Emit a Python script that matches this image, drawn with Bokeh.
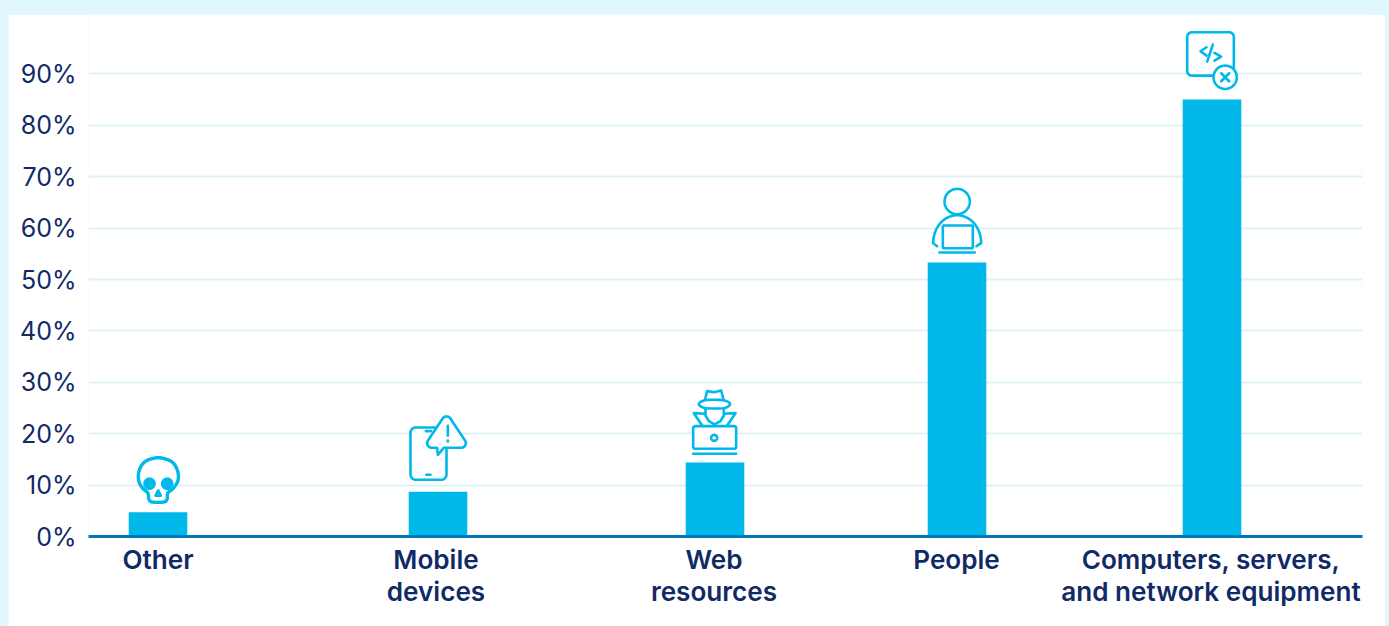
from math import cos, sin, pi

from bokeh.embed import file_html
from bokeh.layouts import column
from bokeh.models import FixedTicker, PrintfTickFormatter, Range1d
from bokeh.plotting import figure
from bokeh.resources import INLINE

# Chart data
categories = ["Other", "Mobile\ndevices", "Web\nresources", "People",
              "Computers, servers,\nand network equipment"]
shares = [4.7, 8.7, 14.4, 53.3, 85.0]
percent_ticks = [0, 10, 20, 30, 40, 50, 60, 70, 80, 90]

# Layout: the x scale counts window pixels, so bar centres read directly
WIDTH, HEIGHT = 1389, 626
CARD_LEFT, CARD_RIGHT, CARD_TOP = 8, 1385, 14
LEFT, RIGHT, BASE = 88, 1362, 536
PX_PER_PERCENT = 5.14
centres = [157.5, 437.5, 714.5, 956.5, 1211.5]
label_centres = [157.5, 435.5, 713.5, 956, 1210.5]
BAR_WIDTH = 58.6

PAGE = "#dff7fd"
GRID = "#dff1f7"
CYAN = "#00b8e9"
AXIS = "#0277b5"
INK = "#102a66"
STROKE = 2.6

p = figure(width=CARD_RIGHT - CARD_LEFT, height=HEIGHT - CARD_TOP,
           output_backend="svg", toolbar_location=None,
           margin=(CARD_TOP, WIDTH - CARD_RIGHT, 0, CARD_LEFT),
           x_range=Range1d(LEFT, RIGHT),
           y_range=Range1d(0, (BASE - CARD_TOP) / PX_PER_PERCENT),
           min_border_left=LEFT - CARD_LEFT, min_border_right=CARD_RIGHT - RIGHT,
           min_border_top=0, min_border_bottom=HEIGHT - BASE,
           border_fill_color="white", background_fill_color="white", outline_line_color=None)

p.xgrid.visible = False
p.ygrid.ticker = FixedTicker(ticks=percent_ticks)
p.ygrid.grid_line_color = GRID
p.ygrid.grid_line_width = 2

p.yaxis.ticker = FixedTicker(ticks=percent_ticks)
p.yaxis.formatter = PrintfTickFormatter(format="%d%%")
p.yaxis.axis_line_color = None
p.yaxis.major_tick_line_color = None
p.yaxis.minor_tick_line_color = None
p.yaxis.major_label_standoff = 6
p.yaxis.major_label_text_font = "Inter"
p.yaxis.major_label_text_font_size = "25px"
p.yaxis.major_label_text_color = INK

p.xaxis.ticker = FixedTicker(ticks=label_centres)
p.xaxis.major_label_overrides = dict(zip(label_centres, categories))
p.xaxis.axis_line_color = AXIS
p.xaxis.axis_line_width = 3
p.xaxis.major_tick_line_color = None
p.xaxis.minor_tick_line_color = None
p.xaxis.major_label_standoff = 1
p.xaxis.major_label_text_font = "Inter SemiBold"
p.xaxis.major_label_text_font_size = "26.1px"
p.xaxis.major_label_text_line_height = 1.04
p.xaxis.major_label_text_color = INK

p.vbar(x=centres, top=shares, bottom=0, width=BAR_WIDTH, fill_color=CYAN, line_color=None)


# Icon helpers: each icon is drawn on a 3-units-per-pixel grid, and "origin" is
# where the top centre of its bar sits on that grid.
def arc(cx, cy, rx, ry, start=0, end=360, steps=48):
    return [(cx + rx * cos(pi * (start + (end - start) * i / steps) / 180),
             cy + ry * sin(pi * (start + (end - start) * i / steps) / 180))
            for i in range(steps + 1)]


def round_rect(x0, y0, x1, y1, r):
    return (arc(x0 + r, y0 + r, r, r, 180, 270, 8) + arc(x1 - r, y0 + r, r, r, 270, 360, 8)
            + arc(x1 - r, y1 - r, r, r, 0, 90, 8) + arc(x0 + r, y1 - r, r, r, 90, 180, 8))


def smooth(points, steps=8):
    n = len(points)
    out = []
    for i in range(n):
        p0, p1, p2, p3 = (points[(i + k) % n] for k in (-1, 0, 1, 2))
        for s in range(steps):
            t = s / steps
            out.append(tuple(
                0.5 * (2 * p1[a] + (p2[a] - p0[a]) * t
                       + (2 * p0[a] - 5 * p1[a] + 4 * p2[a] - p3[a]) * t ** 2
                       + (3 * p1[a] - p0[a] - 3 * p2[a] + p3[a]) * t ** 3)
                for a in (0, 1)))
    return out


class Icon:
    def __init__(self, bar, origin):
        self.cx, self.top, self.origin = centres[bar], shares[bar], origin

    def _xy(self, points):
        xs = [self.cx + (x - self.origin[0]) / 3 for x, _ in points]
        ys = [self.top - (y - self.origin[1]) / 3 / PX_PER_PERCENT for _, y in points]
        return xs, ys

    def shape(self, points, fill="white", outline=True, width=STROKE):
        xs, ys = self._xy(points)
        p.patch(xs, ys, fill_color=fill, line_color=CYAN if outline else None,
                line_width=width, line_join="round")

    def stroke(self, points, width=STROKE):
        xs, ys = self._xy(points)
        p.line(xs, ys, line_color=CYAN, line_width=width, line_join="round", line_cap="round")


# Skull
skull = Icon(0, (142.5, 186))
skull.shape(smooth([(112, 128), (95, 112), (84, 88), (87, 58), (105, 33), (143, 22), (182, 33),
                    (200, 58), (203, 88), (190, 112), (172, 128), (170, 146), (160, 155),
                    (125, 155), (115, 146)]), width=3.4)
skull.shape(arc(117, 100, 15, 15), fill=CYAN)
skull.shape(arc(170, 100, 15, 15), fill=CYAN)
skull.shape([(143, 120), (135, 136), (151, 136)], fill="white")

# Phone with a warning bubble
phone = Icon(1, (142.5, 258))
phone.shape(round_rect(60, 65, 168, 222, 16))
phone.stroke([(106, 76), (122, 76)])
phone.stroke([(108, 207), (120, 207)])
phone.shape(arc(168, 46, 14, 14, 210, 330, 10)
            + arc(212, 112, 14, 14, 325, 450, 10)
            + [(160, 126), (142, 147), (140, 126)]
            + arc(124, 112, 14, 14, 90, 215, 10))
phone.stroke([(172, 60), (172, 90)])
phone.stroke([(172, 104), (172, 107)])

# Hooded figure behind a laptop
spy = Icon(2, (133.5, 246))
spy.stroke([(103, 100), (70, 98), (95, 135)])
spy.stroke([(160, 100), (195, 98), (170, 135)])
spy.shape([(105, 82), (105, 105), (115, 122), (132, 132), (150, 122), (160, 105), (160, 82)])
spy.shape([(103, 60), (110, 32), (130, 35), (152, 30), (160, 60)])
spy.shape(smooth([(85, 71), (100, 60), (132, 58), (162, 60), (179, 70), (165, 82), (132, 84), (100, 82)], 4))
spy.shape(round_rect(68, 137, 197, 205, 6))
spy.shape(arc(131, 172, 9, 9))
spy.stroke([(68, 220), (197, 220)])

# Person at a laptop; the shoulders stay open at the bottom
person = Icon(3, (139.5, 246))
person.shape(arc(140, 63, 38, 38))
shoulders = arc(140, 188, 72, 84, 180, 360)
person.shape(shoulders, outline=False)
person.stroke([(80, 197)] + shoulders + [(198, 197)])
person.shape(round_rect(97, 135, 187, 203, 3))
person.stroke([(87, 216), (193, 216)])

# Code window with an error badge
code = Icon(4, (184.5, 237))
code.shape(round_rect(110, 35, 250, 165, 14))
code.stroke([(168, 80), (150, 92), (168, 105)])
code.stroke([(187, 72), (170, 123)])
code.stroke([(192, 97), (212, 108), (192, 120)])
code.shape(arc(224, 170, 35, 35))
code.stroke([(212, 158), (236, 182)])
code.stroke([(236, 158), (212, 182)])

page = column(p, width=WIDTH, height=HEIGHT, styles={"background-color": PAGE})
open("out.html", "w").write(file_html(page, INLINE))
